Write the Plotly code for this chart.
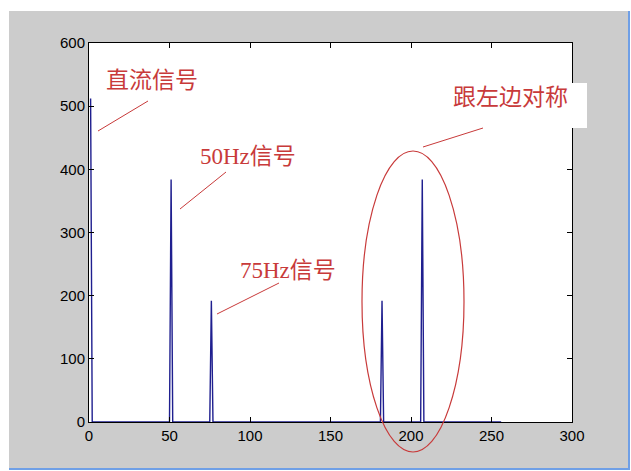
import plotly.graph_objects as go

# ---- data (FFT magnitude, N = 256 points, MATLAB index 1..256) ----
N = 256
peak_index = [1, 51, 76, 182, 207]
peak_mag = [512, 384, 192, 192, 384]

x_ticks = [0, 50, 100, 150, 200, 250, 300]
y_ticks = [0, 100, 200, 300, 400, 500, 600]

labels = ["直流信号", "50Hz信号", "75Hz信号", "跟左边对称"]

idx = list(range(1, N + 1))
mag = [0.0] * N
for i, m in zip(peak_index, peak_mag):
    mag[i - 1] = m

# ---- geometry (absolute page pixels, page is 631x471) ----
OX, OY = 9, 11            # gray figure window offset inside the white page
W, H = 619, 457           # gray window size
L, R, T, B = 89, 572, 43, 422   # plot area (absolute page pixels)


def px(xp):
    return (xp - L) / (R - L)


def py(yp):
    return (B - yp) / (B - T)


fig = go.Figure()
fig.add_trace(go.Scatter(x=idx, y=mag, mode="lines",
                         line=dict(color="#1f1f8f", width=1.4),
                         showlegend=False, hoverinfo="skip"))

red = "#c83a3a"
font_ann = dict(family="Liberation Serif, Noto Sans CJK SC", size=23, color=red)

annotations = [
    dict(text=labels[0], x=px(152), y=py(80)),
    dict(text=labels[1], x=px(248), y=py(156)),
    dict(text=labels[2], x=px(288), y=py(270)),
    dict(text=labels[3], x=px(510), y=py(97)),
]
for a in annotations:
    a.update(xref="paper", yref="paper", showarrow=False, font=font_ann,
             xanchor="center", yanchor="middle")

shapes = [
    # white label box
    dict(type="rect", xref="paper", yref="paper", x0=px(440), x1=px(587), y0=py(128), y1=py(83),
         fillcolor="white", line=dict(width=0), layer="above"),
    # pointer lines
    dict(type="line", xref="paper", yref="paper", x0=px(98), y0=py(131), x1=px(148), y1=py(101),
         line=dict(color=red, width=1)),
    dict(type="line", xref="paper", yref="paper", x0=px(180), y0=py(209), x1=px(226), y1=py(172),
         line=dict(color=red, width=1)),
    dict(type="line", xref="paper", yref="paper", x0=px(217), y0=py(314), x1=px(279), y1=py(283),
         line=dict(color=red, width=1)),
    dict(type="line", xref="paper", yref="paper", x0=px(423), y0=py(147), x1=px(483), y1=py(128),
         line=dict(color=red, width=1)),
    # ellipse
    dict(type="circle", xref="paper", yref="paper", x0=px(362), x1=px(464), y0=py(452), y1=py(151),
         line=dict(color=red, width=1.2)),
]

axis_common = dict(showgrid=False, zeroline=False, showline=True, linecolor="black",
                   linewidth=1, mirror="ticks", ticks="inside", ticklen=5,
                   tickcolor="black", tickfont=dict(family="Liberation Sans", size=15, color="black"))

fig.update_layout(
    width=W, height=H,
    margin=dict(l=L - OX, r=(OX + W) - R, t=T - OY, b=(OY + H) - B),
    paper_bgcolor="#cccccc", plot_bgcolor="white",
    xaxis=dict(range=[0, 300], tickvals=x_ticks, ticktext=[str(v) for v in x_ticks], **axis_common),
    yaxis=dict(range=[0, 600], tickvals=y_ticks, ticktext=[str(v) for v in y_ticks], **axis_common),
    annotations=annotations, shapes=shapes, showlegend=False,
)

post = (
    "document.body.style.margin='0';"
    "document.body.style.padding='%dpx 0 0 %dpx';"
    "document.body.style.overflow='hidden';"
    "document.body.style.background='white';"
    "var d=document.getElementById('{plot_id}');"
    "d.style.width='%dpx';d.style.height='%dpx';"
    "d.style.borderRight='2px solid #6f9fe6';d.style.borderBottom='2px solid #6f9fe6';"
) % (OY, OX, W, H)

fig.write_html("out.html", config={"displayModeBar": False}, post_script=post)
